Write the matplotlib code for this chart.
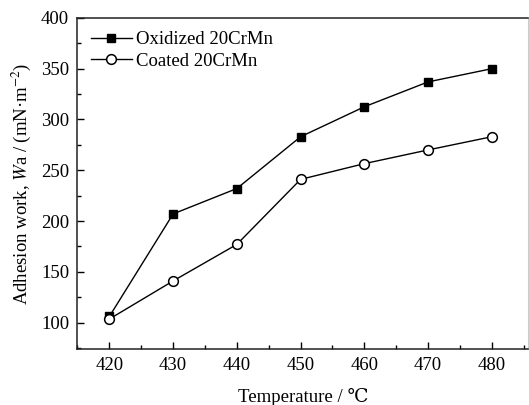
import matplotlib
matplotlib.use("Agg")
import matplotlib.pyplot as plt
from matplotlib.ticker import MultipleLocator

temperature = [420, 430, 440, 450, 460, 470, 480]
oxidized = [106, 207, 232, 283, 312.5, 337, 350]
coated = [103.5, 141, 177, 241, 256.5, 270, 283]
series_labels = ["Oxidized 20CrMn", "Coated 20CrMn"]

plt.rcParams['font.family'] = ['Liberation Serif', 'DejaVu Serif']
plt.rcParams['mathtext.fontset'] = 'stix'

fig = plt.figure(figsize=(5.29, 4.05), dpi=100)
ax = fig.add_axes([0.1465, 0.1383, 0.852, 0.8175])

ax.plot(temperature, oxidized, color='black', lw=1.0, marker='s', ms=6,
        mfc='black', mec='black', label=series_labels[0])
ax.plot(temperature, coated, color='black', lw=1.0, marker='o', ms=7,
        mfc='white', mec='black', mew=1.1, label=series_labels[1])

ax.set_xlim(415, 485.7)
ax.set_ylim(74, 400)
ax.xaxis.set_major_locator(MultipleLocator(10))
ax.xaxis.set_minor_locator(MultipleLocator(5))
ax.yaxis.set_major_locator(MultipleLocator(50))
ax.yaxis.set_minor_locator(MultipleLocator(25))
ax.tick_params(which='both', direction='in', top=False, right=False, labelsize=13.5, width=1)
ax.tick_params(which='major', length=5, pad=6)
ax.tick_params(which='minor', length=3)

for s in ['left', 'bottom', 'top']:
    ax.spines[s].set_linewidth(1.1)
    ax.spines[s].set_color('#222222')
ax.spines['right'].set_color('#cccccc')
ax.spines['right'].set_linewidth(0.8)

ax.set_xlabel("Temperature / ℃", fontsize=13.5, labelpad=10)
ax.set_ylabel(r"Adhesion work, $\mathit{W}$a / (mN·m$^{-2}$)", fontsize=13.5, labelpad=6)

ax.legend(loc='upper left', frameon=False, fontsize=13.5, handlelength=2.2,
          handletextpad=0.2, labelspacing=0.25, borderaxespad=0.3,
          bbox_to_anchor=(0.0, 1.0))

fig.savefig("out.png", dpi=100)
